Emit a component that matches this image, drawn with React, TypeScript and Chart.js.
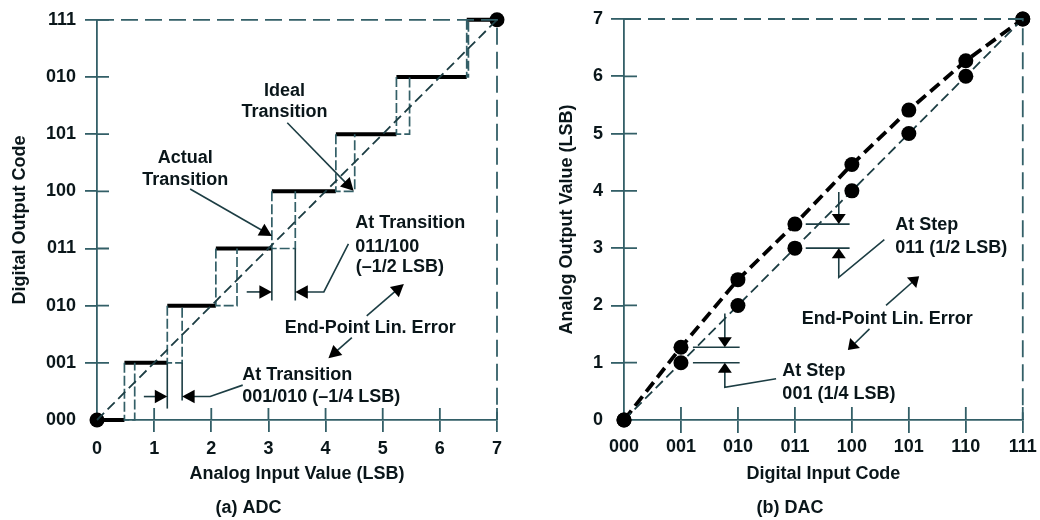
import React, { useEffect, useRef } from 'react';
import { Chart, registerables } from 'chart.js';

Chart.register(...registerables);

const FONT = '"Liberation Sans", Arial, Helvetica, sans-serif';
const TEXT = '#0a161a';
const AXIS = '#335f67';
const THIN = '#1c3d43';

// ---------- ADC data ----------
const adcXTicks = [0, 1, 2, 3, 4, 5, 6, 7];
const adcYCodes = ['000', '001', '010', '011', '100', '101', '010', '111'];
const adcActualTransitions = [0.48, 1.23, 2.08, 3.06, 4.18, 5.24, 6.47];
const adcIdealTransitions = [0.66, 1.49, 2.45, 3.47, 4.51, 5.47, 6.5];

// ---------- DAC data ----------
const dacXCodes = ['000', '001', '010', '011', '100', '101', '110', '111'];
const dacYTicks = [0, 1, 2, 3, 4, 5, 6, 7];
const dacIdealOutput = [0, 1, 2, 3, 4, 5, 6, 7];
const dacActualOutput = [0, 1.27, 2.45, 3.42, 4.46, 5.41, 6.27, 7];

const X_MAX = adcXTicks[adcXTicks.length - 1];
const FS = 18;

// ---------- plugins ----------
const crossTicks = {
  id: 'crossTicks',
  beforeDatasetsDraw(chart: any, _a: any, opts: any) {
    const { ctx, chartArea: ca, scales } = chart;
    const x = scales.x, y = scales.y;
    const len = opts.length || 12;
    ctx.save();
    ctx.strokeStyle = AXIS;
    ctx.lineWidth = 1.8;
    ctx.beginPath();
    x.ticks.forEach((t: any) => {
      if (t.value === 0) return;
      const X = x.getPixelForValue(t.value);
      ctx.moveTo(X, ca.bottom);
      ctx.lineTo(X, ca.bottom - len);
    });
    y.ticks.forEach((t: any) => {
      if (t.value === 0) return;
      const Y = y.getPixelForValue(t.value);
      ctx.moveTo(ca.left, Y);
      ctx.lineTo(ca.left + len, Y);
    });
    ctx.stroke();
    ctx.restore();
  },
};

const annot = {
  id: 'annot',
  afterDatasetsDraw(chart: any, _a: any, opts: any) {
    const { ctx, scales } = chart;
    const x = scales.x, y = scales.y;
    const P = (p: number[]) => [x.getPixelForValue(p[0]), y.getPixelForValue(p[1])];
    const headLen = opts.headLen || 12;
    const headHalf = opts.headHalf || 6.5;
    ctx.save();
    ctx.lineCap = 'butt';
    ctx.lineJoin = 'miter';
    for (const ln of opts.lines || []) {
      const pts = ln.pts.map(P);
      const n = pts.length;
      let ux = 0, uy = 0;
      if (ln.arrow) {
        const [x1, y1] = pts[n - 2];
        const [x2, y2] = pts[n - 1];
        const d = Math.hypot(x2 - x1, y2 - y1) || 1;
        ux = (x2 - x1) / d;
        uy = (y2 - y1) / d;
      }
      ctx.beginPath();
      ctx.setLineDash(ln.dash || []);
      ctx.lineWidth = ln.width ?? 1.6;
      ctx.strokeStyle = ln.color ?? THIN;
      pts.forEach((p: number[], j: number) => {
        let px = p[0], py = p[1];
        if (ln.arrow && j === n - 1) {
          px -= ux * headLen * 0.8;
          py -= uy * headLen * 0.8;
        }
        if (j === 0) ctx.moveTo(px, py);
        else ctx.lineTo(px, py);
      });
      ctx.stroke();
      if (ln.arrow) {
        const [tx, ty] = pts[n - 1];
        const bx = tx - ux * headLen, by = ty - uy * headLen;
        ctx.setLineDash([]);
        ctx.fillStyle = '#000';
        ctx.beginPath();
        ctx.moveTo(tx, ty);
        ctx.lineTo(bx - uy * headHalf, by + ux * headHalf);
        ctx.lineTo(bx + uy * headHalf, by - ux * headHalf);
        ctx.closePath();
        ctx.fill();
      }
    }
    ctx.setLineDash([]);
    ctx.font = `bold ${opts.fontSize || FS}px ${FONT}`;
    ctx.fillStyle = TEXT;
    ctx.textBaseline = 'middle';
    for (const t of opts.texts || []) {
      ctx.textAlign = t.align || 'left';
      const [px, py] = P([t.x, t.y]);
      ctx.fillText(t.text, px, py);
    }
    ctx.restore();
  },
};

const tickFont = { family: FONT, size: FS, weight: 'bold' as const };

function buildOptions(cfg: any) {
  return {
    responsive: false,
    animation: false,
    events: [],
    layout: { padding: { top: 19, right: cfg.padRight, left: 0, bottom: 0 }, autoPadding: false },
    scales: {
      x: {
        type: 'linear',
        min: 0,
        max: X_MAX,
        afterFit: (s: any) => { s.height = cfg.xAxisHeight; },
        border: { display: true, color: AXIS, width: 1.8 },
        grid: {
          drawOnChartArea: false,
          drawTicks: true,
          tickLength: cfg.tickLength,
          lineWidth: 1.8,
          color: (c: any) => (c.tick && c.tick.value === 0 ? 'rgba(0,0,0,0)' : AXIS),
        },
        ticks: {
          stepSize: 1,
          autoSkip: false,
          maxRotation: 0,
          padding: cfg.xTickPad,
          font: tickFont,
          color: TEXT,
          callback: cfg.xCallback,
        },
        title: {
          display: true,
          text: cfg.xTitle,
          font: tickFont,
          color: TEXT,
          padding: { top: 0, bottom: 12.4 },
        },
      },
      y: {
        type: 'linear',
        min: 0,
        max: X_MAX,
        afterFit: (s: any) => { s.width = cfg.yAxisWidth; },
        border: { display: true, color: AXIS, width: 1.8 },
        grid: {
          drawOnChartArea: false,
          drawTicks: true,
          tickLength: cfg.tickLength,
          lineWidth: 1.8,
          color: (c: any) => (c.tick && c.tick.value === 0 ? 'rgba(0,0,0,0)' : AXIS),
        },
        ticks: {
          stepSize: 1,
          autoSkip: false,
          padding: cfg.yTickPad,
          font: tickFont,
          color: TEXT,
          callback: cfg.yCallback,
        },
        title: {
          display: true,
          text: cfg.yTitle,
          font: tickFont,
          color: TEXT,
          padding: { top: cfg.yTitlePad, bottom: 0 },
        },
      },
    },
    plugins: {
      legend: { display: false },
      tooltip: { enabled: false },
      title: {
        display: true,
        position: 'bottom',
        text: cfg.caption,
        font: tickFont,
        color: TEXT,
        padding: { top: 0, bottom: 1.2 },
      },
      crossTicks: { length: cfg.tickLength },
      annot: cfg.annot,
    },
  };
}

function adcConfig() {
  const stairs: any[] = [];
  for (let k = 0; k < adcYCodes.length; k++) {
    const start = k === 0 ? 0 : adcActualTransitions[k - 1];
    const end = k === adcYCodes.length - 1 ? X_MAX : adcActualTransitions[k];
    stairs.push({ x: start, y: k }, { x: end, y: k }, { x: end, y: null });
  }
  const trans: any[] = [];
  adcActualTransitions.forEach((a, k) => {
    const i = adcIdealTransitions[k];
    trans.push({ x: a, y: k + 1 }, { x: a, y: k }, { x: i, y: k }, { x: i, y: k + 1 }, { x: i, y: null });
  });
  const a1 = adcActualTransitions[1], i1 = adcIdealTransitions[1];
  const a3 = adcActualTransitions[3], i3 = adcIdealTransitions[3];
  return {
    type: 'line',
    data: {
      datasets: [
        {
          data: [{ x: 0, y: X_MAX }, { x: X_MAX, y: X_MAX }, { x: X_MAX, y: 0 }],
          borderColor: AXIS, borderWidth: 1.8, borderDash: [17, 7], pointRadius: 0, clip: false,
        },
        {
          data: [{ x: 0, y: 0 }, { x: X_MAX, y: X_MAX }],
          borderColor: THIN, borderWidth: 1.8, borderDash: [10, 5], pointRadius: 0, clip: false,
        },
        {
          data: trans, spanGaps: false,
          borderColor: AXIS, borderWidth: 1.7, borderDash: [10, 3], pointRadius: 0, clip: false,
        },
        {
          data: stairs, spanGaps: false,
          borderColor: '#000', borderWidth: 4, borderCapStyle: 'butt', pointRadius: 0, clip: false,
        },
        {
          data: [{ x: 0, y: 0 }, { x: X_MAX, y: X_MAX }], showLine: false,
          pointRadius: 7.5, pointBackgroundColor: '#000', pointBorderWidth: 0, clip: false,
        },
      ],
    },
    options: buildOptions({
      padRight: 17,
      xAxisHeight: 77.2,
      tickLength: 12,
      xTickPad: 6.2,
      yTickPad: 9,
      yAxisWidth: 97,
      yTitlePad: 9.2,
      xTitle: 'Analog Input Value (LSB)',
      yTitle: 'Digital Output Code',
      caption: '(a) ADC',
      xCallback: (v: number) => String(v),
      yCallback: (v: number) => adcYCodes[v] ?? '',
      annot: {
        headLen: 12.5,
        headHalf: 6.8,
        lines: [
          { pts: [[a1, 1], [a1, 0.2]] },
          { pts: [[i1, 1], [i1, 0.34]] },
          { pts: [[a3, 3], [a3, 2.09]] },
          { pts: [[i3, 3], [i3, 2.09]] },
          { pts: [[0.82, 0.41], [a1, 0.41]], arrow: true },
          { pts: [[2.55, 0.61], [1.98, 0.41], [i1, 0.41]], arrow: true },
          { pts: [[2.62, 2.24], [a3, 2.24]], arrow: true },
          { pts: [[4.4, 3.08], [3.97, 2.24], [i3, 2.24]], arrow: true },
          { pts: [[3.33, 5.2], [4.49, 4.01]], arrow: true },
          { pts: [[1.63, 4.04], [3.06, 3.22]], arrow: true },
          { pts: [[4.72, 1.82], [5.37, 2.38]], arrow: true },
          { pts: [[4.46, 1.44], [4.05, 1.08]], arrow: true },
        ],
        texts: [
          { text: 'Ideal', x: 3.28, y: 5.76, align: 'center' },
          { text: 'Transition', x: 3.28, y: 5.38, align: 'center' },
          { text: 'Actual', x: 1.545, y: 4.59, align: 'center' },
          { text: 'Transition', x: 1.545, y: 4.2, align: 'center' },
          { text: 'At Transition', x: 4.52, y: 3.44, align: 'left' },
          { text: '011/100', x: 4.52, y: 3.03, align: 'left' },
          { text: '(\u20131/2 LSB)', x: 4.53, y: 2.67, align: 'left' },
          { text: 'End-Point Lin. Error', x: 4.78, y: 1.61, align: 'center' },
          { text: 'At Transition', x: 2.54, y: 0.79, align: 'left' },
          { text: '001/010 (\u20131/4 LSB)', x: 2.54, y: 0.41, align: 'left' },
        ],
      },
    }),
    plugins: [crossTicks, annot],
  };
}

function dacConfig() {
  const ideal = dacIdealOutput.map((v, i) => ({ x: i, y: v }));
  const actual = dacActualOutput.map((v, i) => ({ x: i, y: v }));
  const a1 = dacActualOutput[1], i1 = dacIdealOutput[1];
  const a3 = dacActualOutput[3], i3 = dacIdealOutput[3];
  return {
    type: 'line',
    data: {
      datasets: [
        {
          data: [{ x: 0, y: X_MAX }, { x: X_MAX, y: X_MAX }, { x: X_MAX, y: 0 }],
          borderColor: AXIS, borderWidth: 1.8, borderDash: [17, 7], pointRadius: 0, clip: false,
        },
        {
          data: ideal,
          borderColor: THIN, borderWidth: 1.8, borderDash: [10, 5],
          pointRadius: 7.5, pointBackgroundColor: '#000', pointBorderWidth: 0, clip: false,
        },
        {
          data: actual,
          borderColor: '#000', borderWidth: 3.8, borderDash: [12, 6], borderCapStyle: 'butt',
          pointRadius: 7.5, pointBackgroundColor: '#000', pointBorderWidth: 0, clip: false,
        },
      ],
    },
    options: buildOptions({
      padRight: 16,
      xAxisHeight: 77.2,
      tickLength: 13,
      xTickPad: 3.2,
      yTickPad: 8,
      yAxisWidth: 68,
      yTitlePad: 0,
      xTitle: 'Digital Input Code',
      yTitle: 'Analog Output Value (LSB)',
      caption: '(b) DAC',
      xCallback: (v: number) => dacXCodes[v] ?? '',
      yCallback: (v: number) => String(dacYTicks[v] ?? ''),
      annot: {
        headLen: 10,
        headHalf: 7,
        lines: [
          { pts: [[1.21, a1], [2.03, a1]] },
          { pts: [[1.21, i1], [2.03, i1]] },
          { pts: [[3.19, a3], [3.96, a3]] },
          { pts: [[3.19, i3], [3.96, i3]] },
          { pts: [[1.77, 1.86], [1.77, a1]], arrow: true },
          { pts: [[2.67, 0.72], [1.77, 0.57], [1.77, i1]], arrow: true },
          { pts: [[3.77, 3.98], [3.77, a3]], arrow: true },
          { pts: [[4.57, 3.15], [3.77, 2.49], [3.77, i3]], arrow: true },
          { pts: [[4.6, 2.0], [5.18, 2.51]], arrow: true },
          { pts: [[4.31, 1.59], [3.93, 1.22]], arrow: true },
        ],
        texts: [
          { text: 'At Step', x: 4.76, y: 3.4, align: 'left' },
          { text: '011 (1/2 LSB)', x: 4.76, y: 3.01, align: 'left' },
          { text: 'End-Point Lin. Error', x: 4.62, y: 1.77, align: 'center' },
          { text: 'At Step', x: 2.78, y: 0.85, align: 'left' },
          { text: '001 (1/4 LSB)', x: 2.78, y: 0.45, align: 'left' },
        ],
      },
    }),
    plugins: [crossTicks, annot],
  };
}

function ChartCanvas({ makeConfig, left, width }: { makeConfig: () => any; left: number; width: number }) {
  const ref = useRef<HTMLCanvasElement>(null);
  useEffect(() => {
    const chart = new Chart(ref.current as HTMLCanvasElement, makeConfig());
    return () => chart.destroy();
  }, [makeConfig]);
  return (
    <canvas
      ref={ref}
      width={width}
      height={520}
      style={{ position: 'absolute', left, top: 0, width, height: 520, display: 'block' }}
    />
  );
}

export default function App() {
  return (
    <div style={{ position: 'absolute', left: 0, top: 0, width: 1040, height: 520, background: '#fff', overflow: 'hidden' }}>
      <ChartCanvas makeConfig={adcConfig} left={0} width={514} />
      <ChartCanvas makeConfig={dacConfig} left={556} width={484} />
    </div>
  );
}
